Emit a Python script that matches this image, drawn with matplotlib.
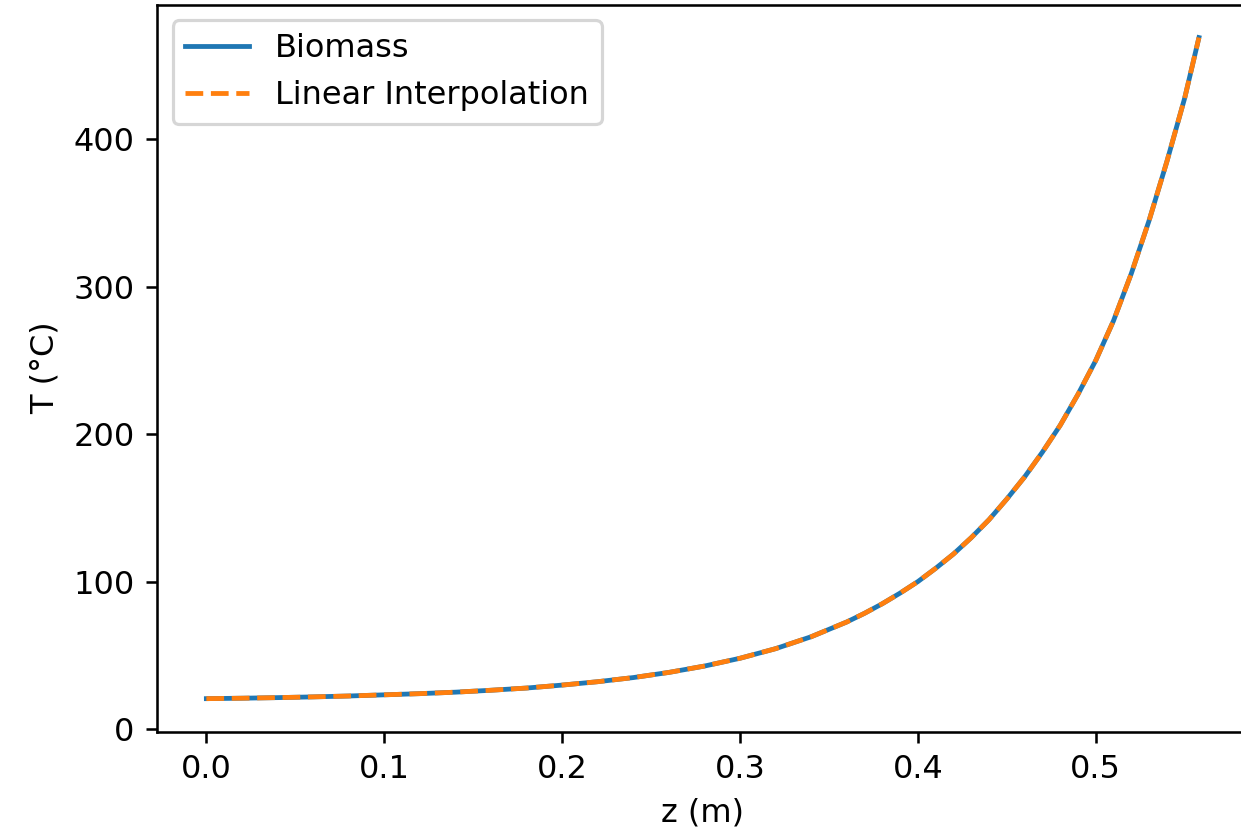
import numpy as np
import matplotlib
matplotlib.use("Agg")
import matplotlib.pyplot as plt

# temperature profile along the bed
z_m = [0.00, 0.02, 0.04, 0.06, 0.08, 0.10, 0.12, 0.14, 0.16, 0.18,
       0.20, 0.22, 0.24, 0.26, 0.28, 0.30, 0.32, 0.34, 0.36, 0.37,
       0.38, 0.39, 0.40, 0.41, 0.42, 0.43, 0.44, 0.45, 0.46, 0.47,
       0.48, 0.49, 0.50, 0.51, 0.52, 0.53, 0.54, 0.55, 0.558]
T_biomass = [20.6, 20.9, 21.3, 21.8, 22.4, 23.2, 24.0, 25.0, 26.3, 27.8,
             29.8, 32.1, 34.9, 38.4, 42.7, 48.0, 54.5, 62.6, 72.6, 78.5,
             85.0, 92.2, 100.0, 109.0, 118.7, 129.8, 142.0, 156.0, 171.0, 187.8,
             206.0, 227.0, 250.0, 277.0, 309.0, 345.0, 385.0, 428.0, 469.0]

z = np.array(z_m)
T = np.array(T_biomass)
T_interp = np.interp(z, z, T)

DPI = 230
fig = plt.figure(figsize=(1241 / DPI, 835 / DPI), dpi=DPI)
# the reference is cropped on the right, so the axes run slightly past the edge
ax = fig.add_axes([0.1263, 0.1237, 0.8798, 0.8709])

ax.plot(z, T, label='Biomass')
ax.plot(z, T_interp, '--', label='Linear Interpolation')

ax.set_xlabel('z (m)')
ax.set_ylabel('T (°C)')
ax.legend(loc='upper left')

fig.savefig('out.png', dpi=DPI)
